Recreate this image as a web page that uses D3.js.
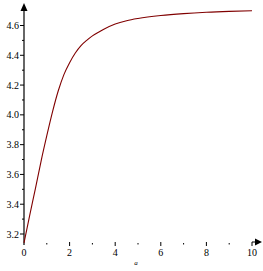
<!DOCTYPE html>
<html>
<head>
<meta charset="utf-8">
<script src="https://cdn.jsdelivr.net/npm/d3@7"></script>
<style>
  body { margin: 0; background: #fff; }
</style>
</head>
<body>
<div id="chart"></div>
<script>
// values
const xs = [0, 0.25, 0.5, 0.75, 1, 1.25, 1.5, 1.75, 2, 2.25, 2.5, 2.75, 3, 3.5, 4, 4.5, 5, 6, 7, 8, 9, 10];
const ys = [3.14, 3.325, 3.505, 3.69, 3.86, 4.02, 4.16, 4.27, 4.35, 4.415, 4.465, 4.5, 4.53, 4.575, 4.61, 4.632, 4.647, 4.667, 4.68, 4.689, 4.695, 4.699];
const xMajor = [0, 2, 4, 6, 8, 10];
const xMinor = [1, 3, 5, 7, 9];
const yMajor = [3.2, 3.4, 3.6, 3.8, 4.0, 4.2, 4.4, 4.6];
const yMinor = [3.3, 3.5, 3.7, 3.9, 4.1, 4.3, 4.5];
const xLabel = 'a';

const width = 263;
const height = 271;
const serif = '"Liberation Serif", "Times New Roman", Times, serif';

const svg = d3.select('#chart')
  .append('svg')
  .attr('width', width)
  .attr('height', height)
  .style('font-family', serif);

const x = d3.scaleLinear().domain([0, 10]).range([24, 252]);
const y = d3.scaleLinear().domain([3.2, 4.6]).range([234, 25.5]);

const axisY = 244;
const axisX = x(0);

// vertical axis with arrow
svg.append('line')
  .attr('x1', axisX).attr('x2', axisX)
  .attr('y1', axisY + 1).attr('y2', 9)
  .attr('stroke', '#000').attr('stroke-width', 1.2);
svg.append('path')
  .attr('d', `M${axisX - 3.5},11 L${axisX},3 L${axisX + 3.5},11 Z`)
  .attr('fill', '#000');

// y ticks
svg.selectAll('.ytick').data(yMajor).enter()
  .append('line')
  .attr('x1', axisX - 4).attr('x2', axisX)
  .attr('y1', (d) => y(d)).attr('y2', (d) => y(d))
  .attr('stroke', '#000');
svg.selectAll('.yminor').data(yMinor).enter()
  .append('line')
  .attr('x1', axisX - 2).attr('x2', axisX)
  .attr('y1', (d) => y(d)).attr('y2', (d) => y(d))
  .attr('stroke', '#000');
svg.selectAll('.ylabel').data(yMajor).enter()
  .append('text')
  .attr('x', 19)
  .attr('y', (d) => y(d) + 3.5)
  .attr('text-anchor', 'end')
  .attr('font-family', serif)
  .attr('font-size', 10)
  .text((d) => d.toFixed(1));

// x ticks (the axis line itself is not visible in the reference)
svg.selectAll('.xtick').data(xMajor.slice(1)).enter()
  .append('line')
  .attr('x1', (d) => x(d)).attr('x2', (d) => x(d))
  .attr('y1', axisY - 2).attr('y2', axisY + 2)
  .attr('stroke', '#000');
svg.selectAll('.xminor').data(xMinor).enter()
  .append('line')
  .attr('x1', (d) => x(d)).attr('x2', (d) => x(d))
  .attr('y1', axisY - 1).attr('y2', axisY + 0.5)
  .attr('stroke', '#000');
svg.selectAll('.xlabel').data(xMajor).enter()
  .append('text')
  .attr('x', (d) => x(d))
  .attr('y', axisY + 12)
  .attr('text-anchor', 'middle')
  .attr('font-family', serif)
  .attr('font-size', 10)
  .text((d) => d);

// arrow at the right end
svg.append('line')
  .attr('x1', x(10)).attr('x2', 256)
  .attr('y1', axisY - 2).attr('y2', axisY - 2)
  .attr('stroke', '#000');
svg.append('path')
  .attr('d', `M255,${axisY - 5.5} L262,${axisY - 2} L255,${axisY + 1.5} Z`)
  .attr('fill', '#000');

svg.append('text')
  .attr('x', 136)
  .attr('y', 265)
  .attr('text-anchor', 'middle')
  .attr('font-family', serif)
  .attr('font-size', 7)
  .attr('font-style', 'italic')
  .text(xLabel);

// the curve
const line = d3.line()
  .x((d) => x(d[0]))
  .y((d) => y(d[1]))
  .curve(d3.curveMonotoneX);

svg.append('path')
  .datum(xs.map((v, i) => [v, ys[i]]))
  .attr('d', line)
  .attr('fill', 'none')
  .attr('stroke', '#800000')
  .attr('stroke-width', 1.1);
</script>
</body>
</html>
